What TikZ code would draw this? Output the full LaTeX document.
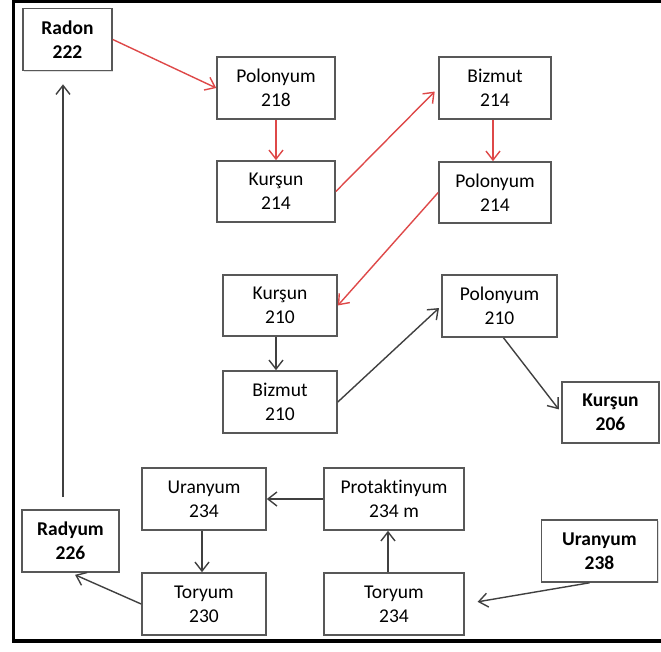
\documentclass[tikz,border=0pt]{standalone}
\usepackage{fontspec}
\setmainfont{Carlito}[Ligatures=NoCommon]
\usetikzlibrary{arrows.meta,shadows}
\definecolor{decayred}{RGB}{222,72,72}
\definecolor{boxgray}{RGB}{88,88,88}
\definecolor{arrowgray}{RGB}{64,64,64}

\begin{document}
\begin{tikzpicture}[x=1pt,y=-1pt,
    box/.style={draw=boxgray,line width=1.6pt,fill=white,align=center,inner sep=0pt,minimum height=62pt,
      font=\fontsize{19.5}{24}\selectfont,drop shadow={shadow xshift=1pt,shadow yshift=-1pt,opacity=0.25}},
    mainbox/.style={box,font=\fontsize{19.5}{24}\selectfont\bfseries},
    decay/.style={draw=arrowgray,line width=1.4pt,-{Straight Barb[length=9pt,width=14pt]}},
    reddecay/.style={decay,draw=decayred}]

    \useasboundingbox (0,0) rectangle (661,651);
    \clip (0,0) rectangle (661,651);
    \draw[line width=3.5pt](664,1.5) -| (13.5,641) -- (664,641);

    % radon branch
    \node[mainbox,minimum width=89pt] (rn222) at (67.5,39.5) {Radon\\222};
    \node[box,minimum width=118pt] (po218) at (276,88) {Polonyum\\218};
    \node[box,minimum width=118pt,minimum height=61pt] (pb214) at (276,191.5) {Kurşun\\214};
    \node[box,minimum width=112pt] (bi214) at (495,88) {Bizmut\\214};
    \node[box,minimum width=112pt,minimum height=61pt] (po214) at (495,192.5) {Polonyum\\214};

    \node[box,minimum width=114pt,minimum height=61pt] (pb210) at (280,305.5) {Kurşun\\210};
    \node[box,minimum width=114pt] (bi210) at (280,402) {Bizmut\\210};
    \node[box,minimum width=115pt] (po210) at (499.5,306) {Polonyum\\210};
    \node[mainbox,minimum width=97pt,minimum height=61pt] (pb206) at (610.5,412.5) {Kurşun\\206};

    % uranium branch
    \node[mainbox,minimum width=116pt] (u238) at (599.5,551) {Uranyum\\238};
    \node[box,minimum width=140pt] (th234) at (394,604) {Toryum\\234};
    \node[box,minimum width=140pt] (pa234) at (394,499) {Protaktinyum\\234 m};
    \node[box,minimum width=124pt] (u234) at (204,499) {Uranyum\\234};
    \node[box,minimum width=124pt] (th230) at (204,604) {Toryum\\230};
    \node[mainbox,minimum width=97pt] (ra226) at (70.5,541) {Radyum\\226};

    \draw[decay,shorten >=13pt]([xshift=-10pt]u238.south)--(th234.east);
    \draw[decay]([xshift=-6pt]th234.north)--([xshift=-6pt]pa234.south);
    \draw[decay](pa234.west)--(u234.east);
    \draw[decay]([xshift=-2pt]u234.south)--([xshift=-2pt]th230.north);
    \draw[decay,shorten >=5pt](th230.west)--(ra226.south);
    \draw[decay,shorten <=12pt,shorten >=13pt]([xshift=-7.5pt]ra226.north)--([xshift=-4.5pt]rn222.south);

    \draw[reddecay](rn222.east)--(po218.west);
    \draw[reddecay](po218.south)--(pb214.north);
    \draw[reddecay,shorten >=5pt](pb214.east)--(bi214.west);
    \draw[reddecay]([xshift=-2pt]bi214.south)--([xshift=-2pt]po214.north);
    \draw[reddecay](po214.west)--(pb210.east);

    \draw[decay]([xshift=-4pt]pb210.south)--([xshift=-4pt]bi210.north);
    \draw[decay,shorten >=3pt](bi210.east)--(po210.west);
    \draw[decay,shorten >=4pt]([xshift=4pt]po210.south)--(pb206.west);
\end{tikzpicture}
\end{document}
